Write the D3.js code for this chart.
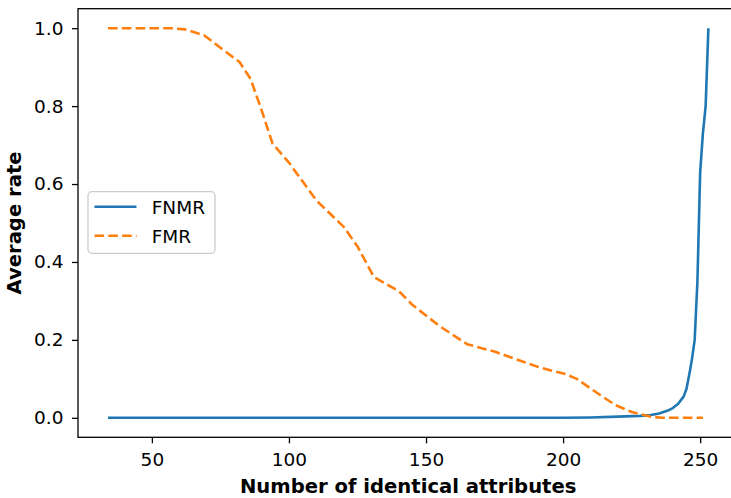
<!DOCTYPE html>
<html>
<head>
<meta charset="utf-8">
<script src="https://cdn.jsdelivr.net/npm/d3@7"></script>
<style>
  html, body { margin: 0; padding: 0; background: #fff; }
  svg { display: block; font-family: "DejaVu Sans", sans-serif; }
</style>
</head>
<body>
<svg id="chart" width="731" height="498"></svg>
<script>
// ---- data ----
const fnmrX = [34, 100, 150, 200, 210, 220, 228, 232, 235, 238, 240, 242, 244, 245, 246, 247, 248, 249, 250, 251, 252, 253];
const fnmrY = [0, 0, 0, 0, 0.001, 0.003, 0.005, 0.007, 0.011, 0.018, 0.025, 0.036, 0.055, 0.074, 0.11, 0.15, 0.2, 0.35, 0.63, 0.73, 0.8, 1.0];

const fmrX = [34, 57, 62, 69, 75, 82, 86, 90, 94, 100, 110, 120, 125, 131, 135, 140, 145, 155, 165, 175, 185, 192, 201, 205, 213, 219, 225, 232, 236, 251];
const fmrY = [1.0, 1.0, 0.997, 0.982, 0.95, 0.913, 0.87, 0.79, 0.704, 0.655, 0.558, 0.49, 0.44, 0.361, 0.345, 0.326, 0.29, 0.235, 0.189, 0.17, 0.145, 0.128, 0.112, 0.1, 0.061, 0.033, 0.015, 0.003, 0.0, 0.0];

const xTicks = [50, 100, 150, 200, 250];
const yTicks = [0.0, 0.2, 0.4, 0.6, 0.8, 1.0];
const seriesNames = ["FNMR", "FMR"];
const seriesColors = ["#1f77b4", "#ff7f0e"];

// ---- layout ----
const svg = d3.select("#chart");
const L = 78, R = 738.4, T = 8.7, B = 437.3;

const xMin = d3.min(fnmrX.concat(fmrX)), xMax = d3.max(fnmrX.concat(fmrX));
const xPad = (xMax - xMin) * 0.05;
const x = d3.scaleLinear().domain([xMin - xPad, xMax + xPad]).range([L, R]);
const y = d3.scaleLinear().domain([-0.05, 1.05]).range([B, T]);

const tickFont = 18.5;
const labelFont = 19.6;

// clip
svg.append("defs").append("clipPath").attr("id", "clip")
  .append("rect").attr("x", L).attr("y", T).attr("width", R - L).attr("height", B - T);

// x axis
const xAxis = svg.append("g").attr("transform", `translate(0,${B})`)
  .call(d3.axisBottom(x).tickValues(xTicks).tickFormat(d3.format("d")).tickSize(6).tickPadding(10));
// y axis
const yAxis = svg.append("g").attr("transform", `translate(${L},0)`)
  .call(d3.axisLeft(y).tickValues(yTicks).tickFormat(d3.format(".1f")).tickSize(6).tickPadding(8.5));

[xAxis, yAxis].forEach(g => {
  g.select(".domain").remove();
  g.selectAll(".tick line").attr("stroke", "#000").attr("stroke-width", 1.3);
  g.selectAll(".tick text").attr("font-size", tickFont).attr("fill", "#000")
    .attr("font-family", "DejaVu Sans, sans-serif");
});

// lines
const line = d3.line().x(d => x(d[0])).y(d => y(d[1]));
const plot = svg.append("g").attr("clip-path", "url(#clip)");

plot.append("path")
  .datum(fnmrX.map((v, i) => [v, fnmrY[i]]))
  .attr("fill", "none").attr("stroke", seriesColors[0]).attr("stroke-width", 2.6)
  .attr("stroke-linejoin", "round").attr("stroke-linecap", "butt")
  .attr("d", line);

plot.append("path")
  .datum(fmrX.map((v, i) => [v, fmrY[i]]))
  .attr("fill", "none").attr("stroke", seriesColors[1]).attr("stroke-width", 2.6)
  .attr("stroke-dasharray", "9.6,4.2")
  .attr("stroke-linejoin", "round").attr("stroke-linecap", "butt")
  .attr("d", line);

// spines
svg.append("rect").attr("x", L).attr("y", T).attr("width", R - L).attr("height", B - T)
  .attr("fill", "none").attr("stroke", "#000").attr("stroke-width", 1.3);

// axis labels
svg.append("text").attr("x", (L + R) / 2).attr("y", 493.3)
  .attr("text-anchor", "middle").attr("font-weight", "bold").attr("font-size", labelFont)
  .attr("fill", "#000").text("Number of identical attributes");
svg.append("text").attr("transform", `translate(21,${(T + B) / 2}) rotate(-90)`)
  .attr("text-anchor", "middle").attr("font-weight", "bold").attr("font-size", labelFont)
  .attr("fill", "#000").text("Average rate");

// legend
const lg = svg.append("g");
lg.append("rect").attr("x", 88).attr("y", 191.7).attr("width", 127).attr("height", 61.6)
  .attr("rx", 4).attr("fill", "#fff").attr("fill-opacity", 0.8)
  .attr("stroke", "#cccccc").attr("stroke-width", 1.3);
seriesNames.forEach((name, i) => {
  const yy = 206.7 + i * 29;
  const l = lg.append("line").attr("x1", 94.5).attr("x2", 136.5).attr("y1", yy).attr("y2", yy)
    .attr("stroke", seriesColors[i]).attr("stroke-width", 2.6);
  if (i === 1) l.attr("stroke-dasharray", "9.6,4.2");
  lg.append("text").attr("x", 151.7).attr("y", yy + 7.6).attr("font-size", tickFont)
    .attr("fill", "#000").text(name);
});
</script>
</body>
</html>
